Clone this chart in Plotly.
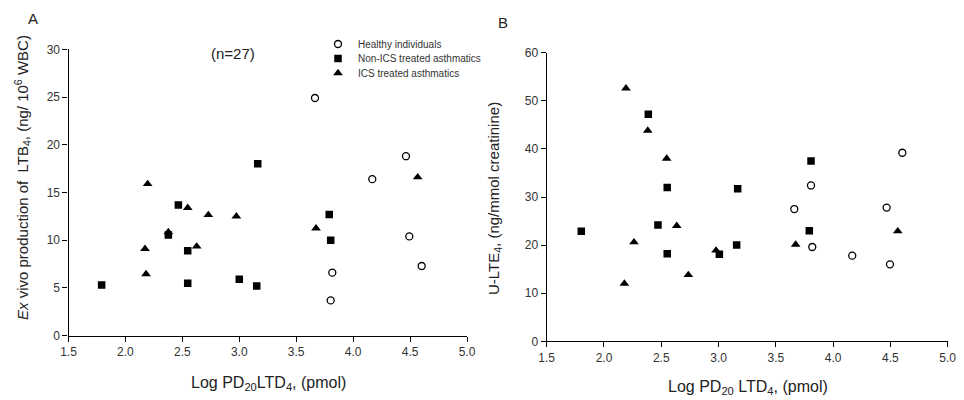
import plotly.graph_objects as go

# ---- Data ----
# Panel A: Ex vivo production of LTB4
a_healthy_x = [3.665, 4.464, 4.168, 4.493, 4.602, 3.817, 3.803]
a_healthy_y = [24.9, 18.8, 16.4, 10.4, 7.3, 6.6, 3.7]
a_nonics_x = [3.162, 2.465, 3.790, 3.803, 2.377, 2.547, 1.791, 2.547, 3.000, 3.153]
a_nonics_y = [18.0, 13.7, 12.7, 10.0, 10.55, 8.9, 5.3, 5.5, 5.9, 5.2]
a_ics_x = [4.567, 2.195, 2.547, 2.728, 2.974, 3.674, 2.377, 2.172, 2.626, 2.181]
a_ics_y = [16.6, 15.9, 13.4, 12.65, 12.5, 11.25, 10.85, 9.1, 9.35, 6.45]

# Panel B: U-LTE4
b_healthy_x = [3.807, 4.604, 3.661, 4.467, 3.818, 4.167, 4.496]
b_healthy_y = [32.4, 39.2, 27.5, 27.8, 19.6, 17.8, 16.0]
b_nonics_x = [2.387, 2.552, 3.167, 3.807, 1.802, 2.471, 2.552, 3.007, 3.158, 3.792]
b_nonics_y = [47.2, 32.0, 31.7, 37.5, 22.9, 24.2, 18.2, 18.1, 20.0, 23.0]
b_ics_x = [2.192, 2.382, 2.547, 2.635, 2.262, 2.178, 2.736, 2.978, 3.673, 4.564]
b_ics_y = [52.6, 43.8, 38.0, 24.0, 20.6, 12.0, 13.8, 18.9, 20.1, 22.9]

group_names = ["Healthy individuals", "Non-ICS treated asthmatics", "ICS treated asthmatics"]
x_ticks = [1.5, 2.0, 2.5, 3.0, 3.5, 4.0, 4.5, 5.0]
ya_ticks = [0, 5, 10, 15, 20, 25, 30]
yb_ticks = [0, 10, 20, 30, 40, 50, 60]

FONT = "Liberation Sans, Arial, sans-serif"

marker_styles = [
    dict(symbol="circle-open", size=7, color="black", line=dict(width=1.3, color="black")),
    dict(symbol="square", size=7.5, color="black", line=dict(width=0)),
    dict(symbol="triangle-up", size=8.5, color="black", line=dict(width=0)),
]
legend_ids = ["legend", "legend2", "legend3"]

fig = go.Figure()
a_sets = [(a_healthy_x, a_healthy_y), (a_nonics_x, a_nonics_y), (a_ics_x, a_ics_y)]
b_sets = [(b_healthy_x, b_healthy_y), (b_nonics_x, b_nonics_y), (b_ics_x, b_ics_y)]
for i, (xs, ys) in enumerate(a_sets):
    fig.add_trace(go.Scatter(x=xs, y=ys, mode="markers", name=group_names[i],
                             marker=marker_styles[i], xaxis="x", yaxis="y",
                             legend=legend_ids[i], showlegend=True))
for i, (xs, ys) in enumerate(b_sets):
    fig.add_trace(go.Scatter(x=xs, y=ys, mode="markers", name=group_names[i],
                             marker=marker_styles[i], xaxis="x2", yaxis="y2",
                             showlegend=False))

W, H = 964, 400
def px_x(p):
    return p / W
def px_y(p):
    return 1 - p / H

axis_common = dict(showgrid=False, zeroline=False, showline=True, linecolor="black",
                   linewidth=1.2, ticks="outside", ticklen=5, tickwidth=1.2,
                   tickcolor="black", tickfont=dict(family=FONT, size=12, color="#333333"),
                   mirror=False, automargin=False)

legend_rows = [44, 58.5, 73]
legend_common = dict(x=px_x(318), xanchor="left", yanchor="middle",
                     bgcolor="rgba(0,0,0,0)", borderwidth=0,
                     font=dict(family=FONT, size=10, color="#333333"), itemwidth=30)

fig.update_layout(
    width=W, height=H, margin=dict(l=0, r=0, t=0, b=0, autoexpand=False),
    paper_bgcolor="white", plot_bgcolor="white",
    font=dict(family=FONT, color="#222222"),
    xaxis=dict(domain=[px_x(68.5), px_x(467)], range=[1.5, 5.0], tickvals=x_ticks,
               ticktext=[f"{v:.1f}" for v in x_ticks], anchor="y", **axis_common),
    yaxis=dict(domain=[px_y(335.7), px_y(49.3)], range=[0, 30], tickvals=ya_ticks,
               anchor="x", **axis_common),
    xaxis2=dict(domain=[px_x(546.7), px_x(947.7)], range=[1.5, 5.0], tickvals=x_ticks,
                ticktext=[f"{v:.1f}" for v in x_ticks], anchor="y2", **axis_common),
    yaxis2=dict(domain=[px_y(341.3), px_y(52.7)], range=[0, 60], tickvals=yb_ticks,
                anchor="x2", **axis_common),
    showlegend=True,
    legend=dict(y=px_y(legend_rows[0]), **legend_common),
    legend2=dict(y=px_y(legend_rows[1]), **legend_common),
    legend3=dict(y=px_y(legend_rows[2]), **legend_common),
)

ann = [
    dict(text="A", x=px_x(33), y=px_y(18), font=dict(size=15)),
    dict(text="B", x=px_x(503), y=px_y(22), font=dict(size=15)),
    dict(text="(n=27)", x=px_x(233), y=px_y(53), font=dict(size=15)),
    dict(text="Log PD<sub>20</sub>LTD<sub>4</sub>, (pmol)", x=px_x(268), y=px_y(383), font=dict(size=16)),
    dict(text="Log PD<sub>20</sub> LTD<sub>4</sub>, (pmol)", x=px_x(748), y=px_y(387), font=dict(size=16)),
    dict(text="<i>Ex</i> vivo production of  LTB<sub>4</sub>, (ng/ 10<sup>6</sup> WBC)",
         x=px_x(22), y=px_y(178), textangle=-90, font=dict(size=15)),
    dict(text="U-LTE<sub>4</sub>, (ng/mmol creatinine)",
         x=px_x(494), y=px_y(198), textangle=-90, font=dict(size=15)),
]
for a in ann:
    a.setdefault("xanchor", "center")
    a.setdefault("yanchor", "middle")
    a["font"] = dict(family=FONT, color="#222222", **a["font"])
    fig.add_annotation(xref="paper", yref="paper", showarrow=False, **a)

fig.write_html("out.html", config={"displayModeBar": False},
               post_script="document.body.style.margin='0';document.body.style.overflow='hidden';")
